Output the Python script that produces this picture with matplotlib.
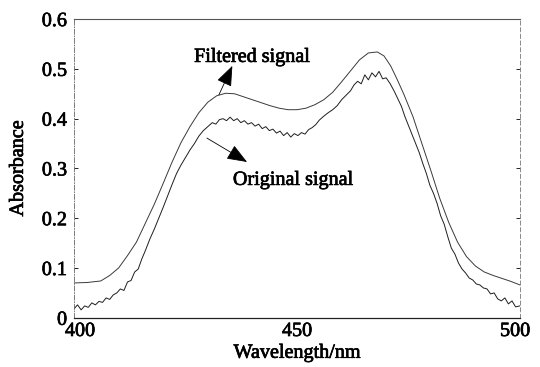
import matplotlib
matplotlib.use("Agg")
import matplotlib.pyplot as plt
import matplotlib.transforms as mtransforms
import matplotlib.patheffects as pe

plt.rcParams['font.family'] = ['Liberation Serif', 'DejaVu Serif']

filt_wl = [400, 403, 406, 408, 410, 412, 414, 416, 418, 420, 422, 424, 426, 428, 430, 432, 434,
           436, 438, 440, 442, 444, 446, 448, 450, 452, 454, 456, 458, 460, 462, 464, 466, 468,
           469.5, 471, 472.5, 474, 476, 478, 480, 482, 484, 486, 488, 490, 492, 494, 496, 498, 500]
filt_abs = [0.070, 0.071, 0.074, 0.085, 0.100, 0.125, 0.152, 0.190, 0.228, 0.270, 0.313, 0.352,
            0.384, 0.412, 0.433, 0.446, 0.451, 0.450, 0.444, 0.438, 0.432, 0.426, 0.421, 0.418,
            0.418, 0.421, 0.428, 0.438, 0.453, 0.474, 0.496, 0.518, 0.532, 0.534, 0.526, 0.506,
            0.478, 0.448, 0.404, 0.350, 0.296, 0.240, 0.192, 0.152, 0.123, 0.104, 0.092, 0.085,
            0.079, 0.073, 0.066]

orig_wl = [400, 400.8, 401.6, 402.4, 403.2, 404, 404.8, 405.6, 406.4, 407.2, 408, 408.8, 409.6,
           410.4, 411.2, 412, 412.8, 413.6, 414.4, 415.2, 416, 417, 418, 419, 420, 421, 422, 423,
           424, 425, 426, 427, 428, 429, 430, 431, 431.8, 432.6, 433.4, 434.2, 435, 435.8, 436.6,
           437.4, 438.2, 439, 439.8, 440.6, 441.4, 442.2, 443, 443.8, 444.6, 445.4, 446.2, 447,
           447.8, 448.6, 449.4, 450.2, 451, 451.8, 452.6, 453.4, 454.2, 455, 456, 457, 458, 459,
           460, 461, 462, 462.8, 463.6, 464.4, 465.2, 466, 466.8, 467.6, 468.4, 469.2, 470,
           470.9, 471.8, 472.6, 473.4, 474.2, 475, 475.8, 476.6, 477.4, 478.2, 479, 479.8, 480.6,
           481.4, 482.2, 483, 483.8, 484.6, 485.4, 486.2, 487, 487.8, 488.6, 489.4, 490.2, 491,
           491.8, 492.6, 493.4, 494.2, 495, 495.8, 496.6, 497.4, 498.2, 499, 500]
orig_abs = [0.018, 0.026, 0.016, 0.024, 0.021, 0.030, 0.026, 0.033, 0.031, 0.040, 0.037, 0.046,
            0.050, 0.058, 0.055, 0.072, 0.075, 0.092, 0.098, 0.118, 0.135, 0.158, 0.178, 0.200,
            0.222, 0.245, 0.268, 0.290, 0.307, 0.322, 0.337, 0.350, 0.365, 0.376, 0.384, 0.392,
            0.389, 0.398, 0.400, 0.396, 0.403, 0.396, 0.400, 0.392, 0.396, 0.389, 0.392, 0.385,
            0.389, 0.380, 0.384, 0.376, 0.379, 0.371, 0.375, 0.366, 0.372, 0.363, 0.370, 0.366,
            0.372, 0.369, 0.378, 0.382, 0.388, 0.397, 0.405, 0.412, 0.418, 0.426, 0.438, 0.447,
            0.456, 0.468, 0.475, 0.470, 0.488, 0.478, 0.492, 0.484, 0.495, 0.480, 0.482, 0.470,
            0.455, 0.440, 0.425, 0.404, 0.386, 0.368, 0.350, 0.332, 0.310, 0.290, 0.266, 0.250,
            0.230, 0.205, 0.188, 0.163, 0.140, 0.128, 0.110, 0.098, 0.090, 0.080, 0.076, 0.068,
            0.066, 0.060, 0.058, 0.048, 0.050, 0.038, 0.034, 0.040, 0.028, 0.034, 0.022, 0.024]

x_ticks = [400, 450, 500]
x_tick_labels = ['400', '450', '500']
y_ticks = [0, 0.1, 0.2, 0.3, 0.4, 0.5, 0.6]
y_tick_labels = ['0', '0.1', '0.2', '0.3', '0.4', '0.5', '0.6']

FS = 14.5
heavy = [pe.withStroke(linewidth=0.5, foreground='black')]

fig = plt.figure(figsize=(5.4, 3.67), dpi=100)
ax = fig.add_axes([0.137, 0.134, 0.826, 0.814])

ax.plot(filt_wl, filt_abs, color='#3a3a3a', lw=0.7)
ax.plot(orig_wl, orig_abs, color='#1e1e1e', lw=0.7)

ax.set_xlim(400, 500)
ax.set_ylim(0, 0.6)
ax.set_xticks(x_ticks)
ax.set_xticklabels(x_tick_labels)
ax.set_yticks(y_ticks)
ax.set_yticklabels(y_tick_labels)
ax.tick_params(axis='y', direction='in', length=3, width=0.6, labelsize=FS, right=True, pad=5)
ax.tick_params(axis='x', direction='in', length=0, labelsize=FS, pad=3)
for lab in ax.get_xticklabels() + ax.get_yticklabels():
    lab.set_path_effects(heavy)
xl = ax.get_xticklabels()
xl[0].set_transform(xl[0].get_transform() + mtransforms.ScaledTranslation(6/100, 0, fig.dpi_scale_trans))
xl[2].set_transform(xl[2].get_transform() + mtransforms.ScaledTranslation(-5/100, 0, fig.dpi_scale_trans))

ax.spines['bottom'].set_linewidth(0.9)
ax.spines['bottom'].set_color('#222222')
ax.spines['top'].set_linewidth(0.8)
ax.spines['top'].set_color('#555555')
ax.spines['left'].set_linewidth(0.6)
ax.spines['left'].set_color('#666666')
ax.spines['left'].set_linestyle((0, (6, 2, 1, 2)))
ax.spines['right'].set_linewidth(0.6)
ax.spines['right'].set_color('#777777')
ax.spines['right'].set_linestyle((0, (5, 3)))

ax.set_xlabel('Wavelength/nm', fontsize=FS, labelpad=2, path_effects=heavy)
ax.set_ylabel('Absorbance', fontsize=FS, labelpad=10, path_effects=heavy)

ax.text(439.9, 0.514, 'Filtered signal', fontsize=FS, ha='center', va='baseline', path_effects=heavy)
ax.annotate('', xy=(435.5, 0.506), xytext=(432.5, 0.448),
            arrowprops=dict(arrowstyle='-|>,head_length=0.9,head_width=0.35', color='black',
                            lw=0.6, shrinkA=0, shrinkB=0, mutation_scale=14))
ax.text(449.1, 0.267, 'Original signal', fontsize=FS, ha='center', va='baseline', path_effects=heavy)
ax.annotate('', xy=(438.8, 0.313), xytext=(429.8, 0.361),
            arrowprops=dict(arrowstyle='-|>,head_length=0.9,head_width=0.35', color='black',
                            lw=0.6, shrinkA=0, shrinkB=0, mutation_scale=14))

fig.savefig('out.png', dpi=100)
